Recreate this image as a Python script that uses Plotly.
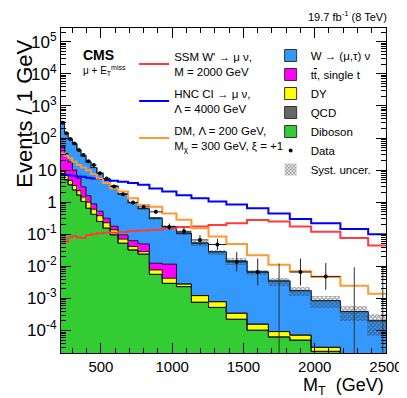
import plotly.graph_objects as go

# ---------------- data (densities in events / GeV) ----------------
edges = [220, 245, 270, 300, 330, 360, 395, 430, 470, 515, 565, 620, 690, 760,
         840, 930, 1030, 1135, 1255, 1380, 1525, 1675, 1825, 1975, 2180, 2375, 2580]

w_munu = [260, 115, 75.5, 53.1, 36.1, 24.5, 16.2, 11.1, 7.41, 4.93, 2.98, 1.68, 0.914,
          0.581, 0.303, 0.162, 0.104, 0.0513, 0.0274, 0.0141, 0.00644, 0.00338,
          0.00167, 0.000821, 0.000389, 0.0002]
ttbar = [46.7, 26.3, 13.0, 6.69, 3.33, 1.575, 0.585, 0.288, 0.145, 0.087, 0.040, 0.0247,
         0.0214, 0.0213, 0.00484, 0.00748, 0, 0, 0, 0, 0, 0, 0, 0, 0, 0]
dy = [1.67, 1.66, 1.32, 0.91, 0.63, 0.395, 0.354, 0.186, 0.129, 0.074, 0.0425, 0.0183,
      0.0093, 0.0048, 0.00214, 0.00132, 0.00048, 0.00047, 0.00027, 0.000123, 5.6e-5,
      3.0e-5, 2.2e-5, 7.6e-6, 0, 0]
qcd = [0.8, 0.2, 0, 0, 0, 0, 0, 0, 0, 0, 0, 0, 0, 0, 0, 0, 0, 0, 0, 0, 0, 0, 0, 0, 0, 0]
diboson = [7.08, 4.90, 3.47, 2.40, 1.66, 1.05, 0.646, 0.417, 0.251, 0.155, 0.0955, 0.0525,
           0.0324, 0.0240, 0.00562, 0.00295, 0.00234, 0.000759, 0.000525, 0.000224,
           0.000102, 6.3e-5, 5.0e-5, 2.24e-5, 0, 0]
syst_rel = [0.06, 0.06, 0.06, 0.06, 0.06, 0.06, 0.06, 0.06, 0.06, 0.06, 0.06, 0.08, 0.08,
            0.08, 0.10, 0.10, 0.10, 0.17, 0.18, 0.22, 0.20, 0.27, 0.30, 0.42, 0.48, 0.65]
data_counts = [7550, 3530, 2800, 2030, 1280, 1033, 667, 578, 357, 275, 170, 125, 68, 57,
               45, 17, 13, 8, 6, 2, 1, 0, 1, 1, 0, 0]

sig_ssm = [0.076, 0.059, 0.079, 0.089, 0.079, 0.076, 0.095, 0.10, 0.107, 0.112, 0.112,
           0.117, 0.126, 0.132, 0.138, 0.155, 0.170, 0.174, 0.195, 0.219, 0.28, 0.25,
           0.174, 0.12, 0.076, 0.045]
sig_hnc = [7.41, 7.08, 6.92, 6.61, 6.31, 6.17, 5.75, 5.50, 5.25, 4.90, 4.68, 4.37, 3.98,
           3.47, 2.69, 2.14, 1.66, 1.32, 1.05, 0.85, 0.646, 0.447, 0.302, 0.219, 0.145, 0.10]
sig_dm = [33.1, 28.2, 23.4, 18.2, 14.5, 12.0, 10.0, 7.59, 5.50, 3.98, 2.69, 2.14, 1.32,
          0.813, 0.724, 0.447, 0.282, 0.155, 0.0851, 0.0501, 0.0224, 0.0112, 0.00708,
          0.00468, 0.00251, 0.00141]

y_tick_vals = [1e-4, 1e-3, 1e-2, 1e-1, 1, 10, 1e2, 1e3, 1e4, 1e5]
y_tick_text = ["10<sup>-4</sup>", "10<sup>-3</sup>", "10<sup>-2</sup>", "10<sup>-1</sup>",
               "1", "10", "10<sup>2</sup>", "10<sup>3</sup>", "10<sup>4</sup>", "10<sup>5</sup>"]
x_tick_vals = [500, 1000, 1500, 2000, 2500]

# ---------------- derived ----------------
n = len(edges) - 1
centers = [(edges[i] + edges[i + 1]) / 2 for i in range(n)]
widths = [edges[i + 1] - edges[i] for i in range(n)]
FLOOR = 1e-9

stack_order = [("Diboson", diboson, "#33cc33", 5),
               ("QCD", qcd, "#666666", 4),
               ("DY", dy, "#ffff00", 3),
               ("t<span style='text-decoration:overline'>t</span>, single t", ttbar, "#ff00ff", 2),
               ("W \u2192 (\u03bc,\u03c4) \u03bd", w_munu, "#3399ff", 1)]

fig = go.Figure()
cum = [0.0] * n
cum_levels = []
for name, vals, col, rank in stack_order:
    fig.add_trace(go.Bar(x=centers, y=vals, width=widths, name=name,
                         marker=dict(color=col, line=dict(color="#333333", width=1)),
                         legend="legend2", legendrank=rank, hoverinfo="skip"))
    cum = [c + v for c, v in zip(cum, vals)]
    cum_levels.append(list(cum))

total = cum_levels[-1]

# re-fill the bars so no inner borders show, keeping the bordered legend boxes
for name, vals, col, rank in stack_order:
    fig.add_trace(go.Bar(x=centers, y=vals, width=widths, showlegend=False,
                         marker=dict(color=col, line=dict(color=col, width=0.6)),
                         hoverinfo="skip", offsetgroup="fill"))

# outlines of the stack
for lev in cum_levels:
    ys = [v if v > 0 else FLOOR for v in lev]
    fig.add_trace(go.Scatter(x=edges, y=ys + [ys[-1]], mode="lines", line_shape="hv",
                             line=dict(color="#1a1a1a", width=1), showlegend=False,
                             hoverinfo="skip"))

# systematic band
lo = [t * (1 - u) for t, u in zip(total, syst_rel)]
span = [t * 2 * u for t, u in zip(total, syst_rel)]
fig.add_trace(go.Bar(x=centers, y=span, base=lo, width=widths, name="Syst. uncer.",
                     marker=dict(color="rgba(0,0,0,0)", line=dict(width=0),
                                 pattern=dict(shape="x", size=3, solidity=0.6,
                                              fgcolor="#3a3a3a", bgcolor="rgba(0,0,0,0)")),
                     legend="legend2", legendrank=7, hoverinfo="skip"))

# signals
for name, vals, col in [("SSM W' \u2192 \u03bc \u03bd,<br>M = 2000 GeV", sig_ssm, "#ff3b3b"),
                        ("HNC CI \u2192 \u03bc \u03bd,<br>\u039b = 4000 GeV", sig_hnc, "#0000ff"),
                        ("DM, \u039b = 200 GeV,<br>M<sub>\u03c7</sub> = 300 GeV, \u03be = +1", sig_dm, "#ff9933")]:
    fig.add_trace(go.Scatter(x=edges, y=vals + [vals[-1]], mode="lines", line_shape="hv",
                             line=dict(color=col, width=2), name=name, legend="legend",
                             legendgroup=name, hoverinfo="skip"))

# data
def perr(k):
    if k == 0:
        return 0.0, 1.841
    s = (k + 0.25) ** 0.5
    return s - 0.5, s + 0.5

dx, dy_, eu, ed, ex = [], [], [], [], []
zx, zy, zu = [], [], []
for i, k in enumerate(data_counts):
    l, u = perr(k)
    if k > 0:
        dx.append(centers[i]); dy_.append(k / widths[i])
        eu.append(u / widths[i]); ed.append(l / widths[i]); ex.append(widths[i] / 2)
    else:
        zx.append(centers[i]); zy.append(FLOOR); zu.append(u / widths[i] - FLOOR)

fig.add_trace(go.Scatter(x=zx, y=zy, mode="markers", marker=dict(size=0.1, color="black"),
                         error_y=dict(type="data", array=zu, arrayminus=[0] * len(zu),
                                      color="#333333", thickness=1, width=0),
                         showlegend=False, hoverinfo="skip"))
fig.add_trace(go.Scatter(x=dx, y=dy_, mode="markers", name="Data",
                         marker=dict(size=4, color="black", symbol="circle"),
                         error_y=dict(type="data", array=eu, arrayminus=ed,
                                      color="#222222", thickness=1, width=0),
                         error_x=dict(type="data", array=ex, color="#222222",
                                      thickness=1, width=0),
                         legend="legend2", legendrank=6, hoverinfo="skip"))

FONT = "Liberation Sans, Arial, sans-serif"
minor_y = [k * 10.0 ** e for e in range(-5, 6) for k in range(2, 10)]

fig.update_layout(
    width=407, height=398,
    margin=dict(l=53, r=21, t=20, b=53),
    paper_bgcolor="white", plot_bgcolor="white",
    barmode="stack", bargap=0,
    font=dict(family=FONT, color="black"),
    xaxis=dict(range=[220, 2500], showline=True, linecolor="black", linewidth=1,
               mirror="allticks", ticks="inside", ticklen=10, tickcolor="black",
               tickvals=x_tick_vals, tickfont=dict(size=15, family=FONT),
               showgrid=False, zeroline=False,
               minor=dict(ticks="inside", ticklen=5, dtick=100, tick0=0,
                          tickcolor="black", showgrid=False)),
    yaxis=dict(type="log", range=[-4.7, 5.43], showline=True, linecolor="black",
               linewidth=1, mirror="allticks", ticks="inside", ticklen=10,
               tickcolor="black", tickvals=y_tick_vals, ticktext=y_tick_text,
               tickfont=dict(size=17, family=FONT), showgrid=False, zeroline=False,
               minor=dict(tickvals=minor_y, ticks="inside", ticklen=5,
                          tickcolor="black", showgrid=False)),
    legend=dict(x=0.225, y=0.955, xanchor="left", yanchor="top", bgcolor="rgba(0,0,0,0)",
                font=dict(size=11.5, family=FONT), tracegroupgap=4, itemwidth=30),
    legend2=dict(x=0.645, y=0.96, xanchor="left", yanchor="top", bgcolor="rgba(0,0,0,0)",
                 font=dict(size=11.5, family=FONT), traceorder="normal"),
    annotations=[
        dict(text="<b>CMS</b>", xref="paper", yref="paper", x=0.06, y=0.918,
             xanchor="left", yanchor="middle", showarrow=False,
             font=dict(size=14, family=FONT)),
        dict(text="\u03bc + E<sub>T</sub><sup>miss</sup>", xref="paper", yref="paper",
             x=0.06, y=0.868, xanchor="left", yanchor="middle", showarrow=False,
             font=dict(size=10, family=FONT)),
        dict(text="19.7 fb<sup>-1</sup> (8 TeV)", xref="paper", yref="paper",
             x=1.01, y=1.01, xanchor="right", yanchor="bottom", showarrow=False,
             font=dict(size=11, family=FONT)),
        dict(text="M<sub>T</sub>  (GeV)", xref="paper", yref="paper",
             x=1.0, y=-0.146, xanchor="right", yanchor="bottom", showarrow=False,
             font=dict(size=18, family=FONT)),
        dict(text="Events / 1 GeV", xref="paper", yref="paper", textangle=-90,
             x=-0.115, y=0.735, xanchor="center", yanchor="middle", showarrow=False,
             font=dict(size=22, family=FONT)),
    ],
)

fig.write_html("out.html")
